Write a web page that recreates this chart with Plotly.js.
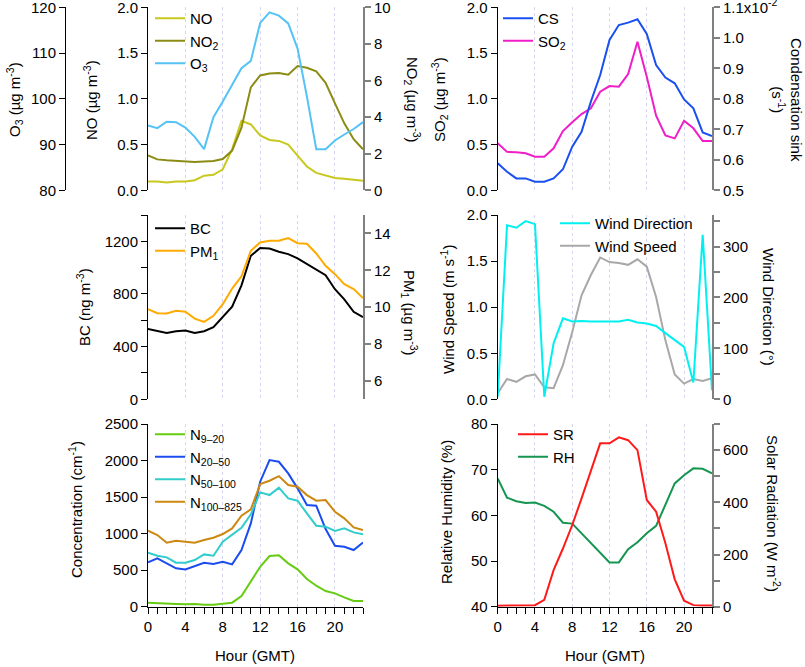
<!DOCTYPE html>
<html><head><meta charset="utf-8">
<script src="https://cdn.plot.ly/plotly-3.0.1.min.js"></script>
<style>html,body{margin:0;padding:0;background:#fff}</style>
</head><body><div id="c" style="width:805px;height:667px"></div>
<script>
const hours = [0,1,2,3,4,5,6,7,8,9,10,11,12,13,14,15,16,17,18,19,20,21,22,23];
const no = [0.095,0.095,0.085,0.095,0.095,0.11,0.16,0.17,0.23,0.45,0.76,0.72,0.60,0.55,0.54,0.50,0.38,0.26,0.19,0.16,0.135,0.125,0.115,0.105];
const no2 = [1.91,1.69,1.64,1.60,1.57,1.55,1.57,1.60,1.71,2.17,3.42,5.63,6.28,6.38,6.41,6.32,6.79,6.70,6.50,5.88,4.75,3.66,2.79,2.24];
const o3 = [94.2,93.6,95.0,94.9,93.7,91.7,89.0,96.0,99.4,103.1,106.7,108.3,116.6,118.9,118.2,116.5,111.0,100.5,89.0,89.0,90.9,92.2,93.4,94.9];
const cs = [0.589,0.561,0.539,0.539,0.528,0.528,0.539,0.569,0.643,0.692,0.791,0.878,0.993,1.042,1.050,1.061,1.013,0.911,0.870,0.851,0.798,0.769,0.690,0.678];
const so2 = [0.514,0.42,0.415,0.404,0.368,0.368,0.459,0.648,0.743,0.834,0.896,1.078,1.14,1.133,1.271,1.625,1.242,0.816,0.601,0.568,0.761,0.678,0.539,0.539];
const bc = [535,517,504,517,522,504,517,548,624,703,866,1090,1149,1146,1121,1103,1070,1027,988,943,836,759,665,624];
const pm1 = [9.89,9.67,9.66,9.80,9.75,9.38,9.20,9.53,10.16,11.01,11.67,13.06,13.51,13.60,13.60,13.75,13.47,13.44,12.91,12.24,11.79,11.25,10.98,10.49];
const wd = [5,342,337,350,344,5,110,159,153,154,153,153,154,153,156,151,149,144,130,117,103,33,323,18];
const ws = [0.065,0.22,0.19,0.25,0.27,0.13,0.12,0.37,0.73,1.13,1.35,1.54,1.49,1.48,1.46,1.52,1.44,1.11,0.64,0.27,0.17,0.22,0.20,0.23];
const n9 = [55,46,46,36,32,36,27,27,41,55,146,351,547,693,703,593,511,379,287,214,182,128,78,78];
const n20 = [607,661,593,525,511,561,602,584,616,579,776,1141,1711,2007,1984,1825,1620,1391,1382,1063,835,821,776,880];
const n50 = [739,698,675,602,602,639,716,698,890,981,1081,1264,1565,1528,1629,1483,1451,1277,1109,1095,1036,1072,1017,990];
const n100 = [1040,981,876,903,890,876,912,944,995,1072,1245,1332,1679,1724,1788,1665,1642,1528,1451,1460,1300,1209,1086,1049];
const sr = [4,4,4,4,6,26,140,223,313,415,517,626,626,649,638,600,409,364,243,105,23,6,5,5];
const rh = [68.1,63.9,63.1,62.7,62.8,62.1,60.8,58.4,58.2,56.1,53.9,51.8,49.7,49.7,52.6,54.1,56.1,57.7,62.3,67.0,68.8,70.3,70.2,69.2];
const csTicks = [0.5,0.6,0.7,0.8,0.9,1.0,1.1];
const csTickText = ['0.5','0.6','0.7','0.8','0.9','1.0','1.1x10<sup>-2</sup>'];

const W=805,H=667;
const px=v=>v/W, py=v=>1-v/H;
const FONT='Liberation Sans, Arial, sans-serif';
function tr(y,xa,ya,name,color,leg){return {x:hours,y:y,xaxis:xa,yaxis:ya,name:name,type:'scatter',mode:'lines',line:{color:color,width:2},legend:leg};}
const data=[
 tr(no,'x','y','NO','#c8c81e','legend'),
 tr(no2,'x','y2','NO<sub>2</sub>','#8c8c14','legend'),
 tr(o3,'x','y3','O<sub>3</sub>','#55c3f5','legend'),
 tr(cs,'x2','y5','CS','#1a4ff0','legend2'),
 tr(so2,'x2','y4','SO<sub>2</sub>','#f01ec8','legend2'),
 tr(bc,'x3','y6','BC','#000000','legend3'),
 tr(pm1,'x3','y7','PM<sub>1</sub>','#ffaa00','legend3'),
 tr(wd,'x4','y9','Wind Direction','#00f0f0','legend4'),
 tr(ws,'x4','y8','Wind Speed','#a8a8a8','legend4'),
 tr(n9,'x5','y10','N<sub>9–20</sub>','#66cc11','legend5'),
 tr(n20,'x5','y10','N<sub>20–50</sub>','#1a4cf0','legend5'),
 tr(n50,'x5','y10','N<sub>50–100</sub>','#33cccc','legend5'),
 tr(n100,'x5','y10','N<sub>100–825</sub>','#cc8811','legend5'),
 tr(sr,'x6','y12','SR','#ff1a1a','legend6'),
 tr(rh,'x6','y11','RH','#149650','legend6')
];
const L=[px(148),px(363)], R=[px(497.7),px(712)];
const T=[py(190.3),py(7.3)], M=[py(399.3),py(215)], B=[py(606.7),py(424)];
function xa(dom,anchor,bottom){
 const a={domain:dom,anchor:anchor,range:[0,23],showgrid:true,gridcolor:'#d6d6f0',griddash:'dot',gridwidth:1,dtick:4,tick0:0,zeroline:false,showline:bottom,linecolor:'#000',showticklabels:bottom,ticks:bottom?'outside':'',ticklen:6,tickcolor:'#000',tickfont:{size:15},ticklabeloverflow:'allow'};
 if(bottom){a.minor={dtick:1,ticks:'outside',ticklen:6,tickcolor:'#000',showgrid:false};}
 return a;
}
function ya(o){
 const right=o.side==='right';
 const col=right?'#808080':'#000';
 return Object.assign({showgrid:false,zeroline:false,showline:true,linecolor:col,linewidth:right?2:1,ticks:'outside',ticklen:6,tickcolor:col,tickwidth:right?2:1,tickfont:{size:15,color:'#000'},ticklabeloverflow:'allow'},o);
}
const layout={
 width:W,height:H,margin:{l:0,r:0,t:0,b:0},paper_bgcolor:'#fff',plot_bgcolor:'rgba(0,0,0,0)',
 font:{family:FONT,size:15,color:'#000'},showlegend:true,
 xaxis:xa(L,'y',false), xaxis2:xa(R,'y4',false), xaxis3:xa(L,'y6',false), xaxis4:xa(R,'y8',false), xaxis5:xa(L,'y10',true), xaxis6:xa(R,'y11',true),
 yaxis:ya({domain:T,anchor:'x',range:[0,2.001],tickvals:[0,0.5,1,1.5,2],tickformat:'.1f'}),
 yaxis2:ya({overlaying:'y',side:'right',anchor:'x',range:[0,10.005],tickvals:[0,2,4,6,8,10]}),
 yaxis3:ya({overlaying:'y',anchor:'free',position:px(65),range:[80,120.02],tickvals:[80,90,100,110,120]}),
 yaxis4:ya({domain:T,anchor:'x2',range:[0,2.001],tickvals:[0,0.5,1,1.5,2],tickformat:'.1f'}),
 yaxis5:ya({overlaying:'y4',side:'right',anchor:'x2',range:[0.5,1.1003],tickvals:csTicks,ticktext:csTickText}),
 yaxis6:ya({domain:M,anchor:'x3',range:[0,1400],tickvals:[0,400,800,1200],minor:{dtick:200,ticks:'outside',ticklen:6,tickcolor:'#000'}}),
 yaxis7:ya({overlaying:'y6',side:'right',anchor:'x3',range:[5,15],dtick:2,tick0:6}),
 yaxis8:ya({domain:M,anchor:'x4',range:[0,2.001],tickvals:[0,0.5,1,1.5,2],tickformat:'.1f'}),
 yaxis9:ya({overlaying:'y8',side:'right',anchor:'x4',range:[0,362],tickvals:[0,100,200,300],minor:{dtick:50,ticks:'outside',ticklen:6,tickcolor:'#808080'}}),
 yaxis10:ya({domain:B,anchor:'x5',range:[0,2501],tickvals:[0,500,1000,1500,2000,2500]}),
 yaxis11:ya({domain:B,anchor:'x6',range:[40,80.02],tickvals:[40,50,60,70,80]}),
 yaxis12:ya({overlaying:'y11',side:'right',anchor:'x6',range:[0,700],tickvals:[0,200,400,600],minor:{dtick:100,ticks:'outside',ticklen:6,tickcolor:'#808080'}}),
 annotations:[]
};
const lg=(x,y)=>({x:px(x),y:py(y),xanchor:'left',yanchor:'top',bgcolor:'rgba(0,0,0,0)',font:{size:15},tracegroupgap:0,itemwidth:30});
layout.legend=lg(150,2); layout.legend2=lg(498,2); layout.legend3=lg(150,212);
layout.legend4=lg(555,207); layout.legend5=lg(150,418); layout.legend6=lg(513,418);
function ann(t,x,y,ang){layout.annotations.push({text:t,x:px(x),y:py(y),xref:'paper',yref:'paper',showarrow:false,textangle:ang,font:{size:15},xanchor:'center',yanchor:'middle'});}
ann('O<sub>3</sub> (µg m<sup>-3</sup>)',14,100,-90);
ann('NO (µg m<sup>-3</sup>)',90,100,-90);
ann('NO<sub>2</sub> (µg m<sup>-3</sup>)',413,100,90);
ann('SO<sub>2</sub> (µg m<sup>-3</sup>)',439,100,-90);
ann('Condensation sink<br>(s<sup>-1</sup>)',787,100,90);
ann('BC (ng m<sup>-3</sup>)',83,307,-90);
ann('PM<sub>1</sub> (µg m<sup>-3</sup>)',410,313,90);
ann('Wind Speed (m s<sup>-1</sup>)',447,310,-90);
ann('Wind Direction (°)',769,307,90);
ann('Concentration (cm<sup>-1</sup>)',75,510,-90);
ann('Relative Humidity (%)',446,512,-90);
ann('Solar Radiation (W m<sup>-2</sup>)',774,513,90);
ann('Hour (GMT)',255,655,0);
ann('Hour (GMT)',605,655,0);
Plotly.newPlot('c',data,layout,{displayModeBar:false,staticPlot:true});
</script></body></html>
